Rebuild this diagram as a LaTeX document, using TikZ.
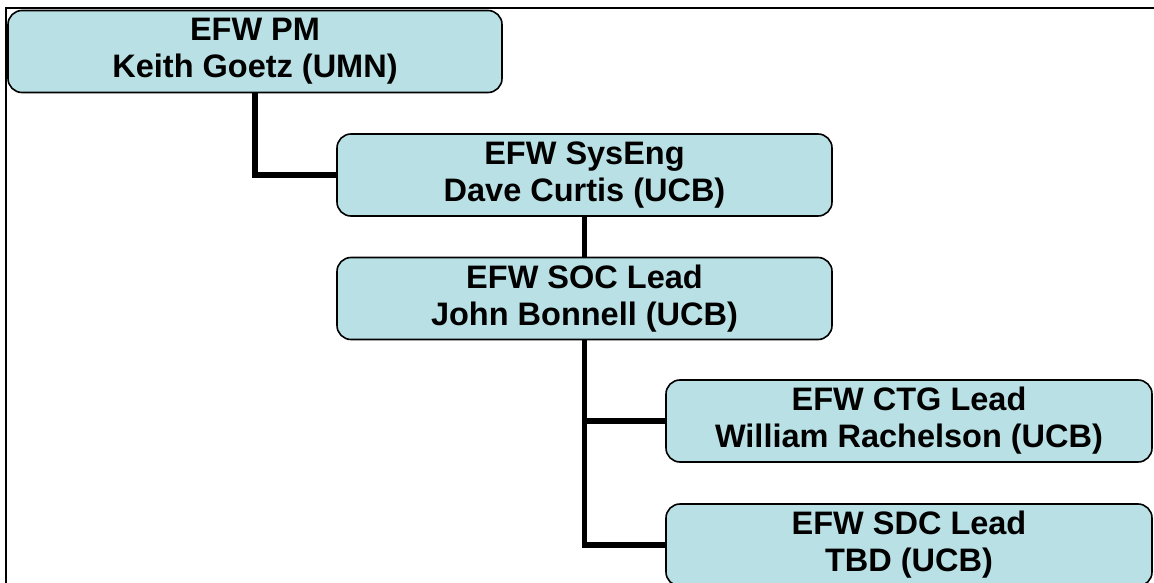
\documentclass[tikz,border=0pt]{standalone}
\usepackage{fontspec}
\setmainfont{Liberation Sans}
\usetikzlibrary{positioning}

\definecolor{boxFill}{RGB}{185,224,228}
\tikzset{
    orgBox/.style={draw=black, line width=1.6pt, fill=boxFill, rounded corners=14pt,
        inner sep=0pt, align=center, minimum height=82pt,
        font=\fontsize{32.5}{37}\selectfont\bfseries},
    orgLine/.style={line width=5.5pt}
}

\begin{document}
\begin{tikzpicture}[x=1pt, y=-1pt]
    \useasboundingbox (0,0) rectangle (1154,583);
    % frame
    \draw[line width=2.5pt] (6,583) -- (6,8) -- (1154,8);

    \node[orgBox, minimum width=494pt] (pm) at (255, 51.5) {EFW PM\\Keith Goetz (UMN)};
    \node[orgBox, minimum width=495pt] (sysEng) at (584.5, 175) {EFW SysEng\\Dave Curtis (UCB)};
    \node[orgBox, minimum width=495pt] (soc) at (584.5, 298.5) {EFW SOC Lead\\John Bonnell (UCB)};
    \node[orgBox, minimum width=486pt] (ctg) at (909, 421) {EFW CTG Lead\\William Rachelson (UCB)};
    \node[orgBox, minimum width=486pt] (sdc) at (909, 545) {EFW SDC Lead\\TBD (UCB)};

    \draw[orgLine] (pm) |- (sysEng);
    \draw[orgLine] (sysEng) -- (soc);
    \draw[orgLine] (soc) |- (ctg);
    \draw[orgLine] (soc) |- (sdc);
\end{tikzpicture}
\end{document}
